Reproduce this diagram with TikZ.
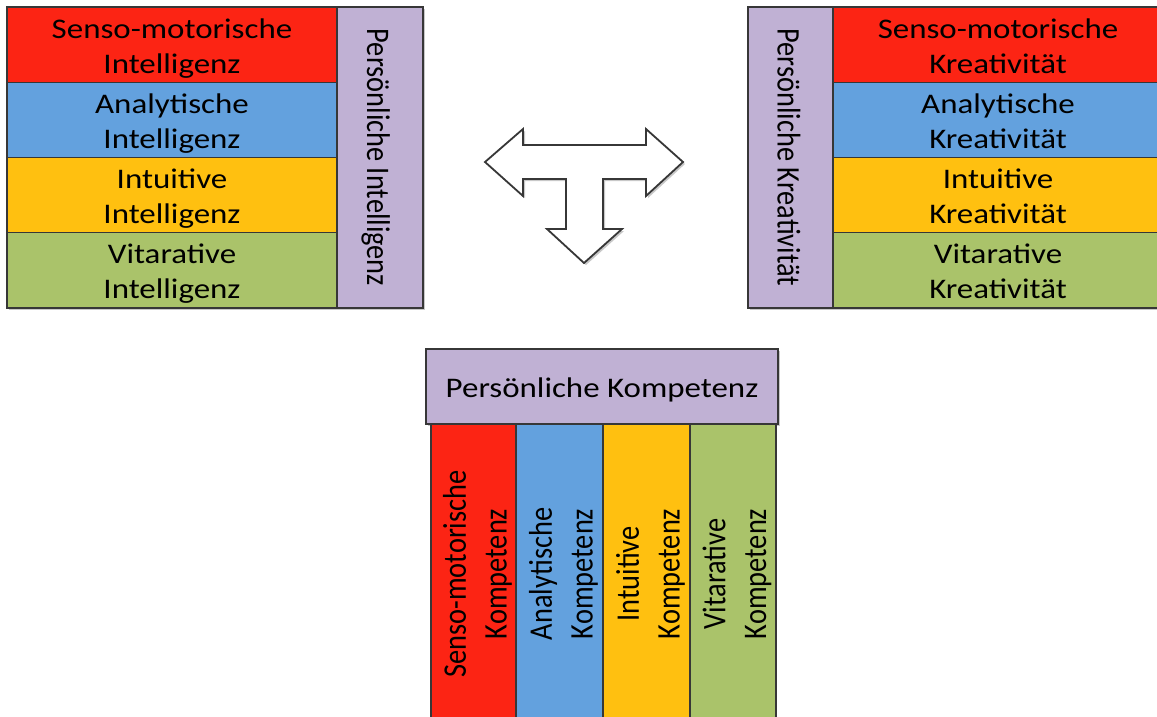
\documentclass[tikz,border=0pt]{standalone}
\usepackage{fontspec}
\setmainfont{Carlito}
\usepackage{graphicx}
\definecolor{cred}{RGB}{252,36,20}
\definecolor{cblue}{RGB}{99,161,222}
\definecolor{cyellow}{RGB}{255,192,16}
\definecolor{cgreen}{RGB}{170,195,106}
\definecolor{cpurple}{RGB}{192,177,212}
\definecolor{lc}{RGB}{55,55,55}
\definecolor{shc}{RGB}{200,200,200}
\newcommand{\hx}[1]{\scalebox{1.16}[1]{\raisebox{-4pt}[\height][\depth]{\begin{tabular}{@{}c@{}}#1\end{tabular}}}}
\newcommand{\vx}[1]{\scalebox{1}[1.16]{\raisebox{-4pt}[\height][\depth]{\begin{tabular}{@{}c@{}}#1\end{tabular}}}}
\tikzset{
  cell/.style={draw=lc, line width=1.2pt, inner sep=0pt, text=black,
    font=\fontsize{28.4}{35}\selectfont},
  shadowbox/.style={fill=shc},
  bigarrow/.style={draw=lc, fill=white, line width=1.8pt, line join=miter}
}
\begin{document}
\begin{tikzpicture}[x=1pt,y=-1pt]
\useasboundingbox (0,0) rectangle (1157,716);
\clip (0,0) rectangle (1157,716);
\fill[white] (0,0) rectangle (1157,716);
% shadows
\fill[shadowbox] (9,9) rectangle (425,310);
\fill[shadowbox] (750,9) rectangle (1170,310);
\fill[shadowbox] (428,351) rectangle (780,426);
% left block
\node[cell, fill=cred, minimum width=330pt, minimum height=75.25pt] (li1) at (172,44.6) {\hx{Senso-motorische\\Intelligenz}};
\node[cell, fill=cblue, minimum width=330pt, minimum height=75.25pt] (li2) at (172,119.9) {\hx{Analytische\\Intelligenz}};
\node[cell, fill=cyellow, minimum width=330pt, minimum height=75.25pt] (li3) at (172,195.1) {\hx{Intuitive\\Intelligenz}};
\node[cell, fill=cgreen, minimum width=330pt, minimum height=75.25pt] (li4) at (172,270.4) {\hx{Vitarative\\Intelligenz}};
\node[cell, fill=cpurple, minimum width=301pt, minimum height=86pt, rotate=-90] (lp) at (380,157.5) {\vx{Persönliche Intelligenz}};
% right block
\node[cell, fill=cpurple, minimum width=301pt, minimum height=85pt, rotate=-90] (rp) at (790.5,157.5) {\vx{Persönliche Kreativität}};
\node[cell, fill=cred, minimum width=330pt, minimum height=75.25pt] (rk1) at (998,44.6) {\hx{Senso-motorische\\Kreativität}};
\node[cell, fill=cblue, minimum width=330pt, minimum height=75.25pt] (rk2) at (998,119.9) {\hx{Analytische\\Kreativität}};
\node[cell, fill=cyellow, minimum width=330pt, minimum height=75.25pt] (rk3) at (998,195.1) {\hx{Intuitive\\Kreativität}};
\node[cell, fill=cgreen, minimum width=330pt, minimum height=75.25pt] (rk4) at (998,270.4) {\hx{Vitarative\\Kreativität}};
% bottom block
\node[cell, fill=cpurple, minimum width=352pt, minimum height=75pt] (bp) at (602,386.5) {\hx{Persönliche Kompetenz}};
\node[cell, fill=cred, minimum width=300pt, minimum height=85pt, rotate=90] (bk1) at (473.5,574) {\vx{Senso-motorische\\Kompetenz}};
\node[cell, fill=cblue, minimum width=300pt, minimum height=87pt, rotate=90] (bk2) at (559.5,574) {\vx{Analytische\\Kompetenz}};
\node[cell, fill=cyellow, minimum width=300pt, minimum height=87pt, rotate=90] (bk3) at (646.5,574) {\vx{Intuitive\\Kompetenz}};
\node[cell, fill=cgreen, minimum width=300pt, minimum height=86pt, rotate=90] (bk4) at (733,574) {\vx{Vitarative\\Kompetenz}};
% T-shaped arrow
\fill[shc] (487,164) -- (525,131) -- (525,147) -- (648,147) -- (648,131) -- (685,164) -- (648,198) -- (648,181) -- (605,181) -- (605,231) -- (624,231) -- (586,265) -- (549,231) -- (568,231) -- (568,181) -- (525,181) -- (525,198) -- cycle;
\draw[bigarrow] (485,162) -- (523,129) -- (523,145) -- (646,145) -- (646,129) -- (683,162) -- (646,196) -- (646,179) -- (603,179) -- (603,229) -- (622,229) -- (584,263) -- (547,229) -- (566,229) -- (566,179) -- (523,179) -- (523,196) -- cycle;
\end{tikzpicture}
\end{document}
